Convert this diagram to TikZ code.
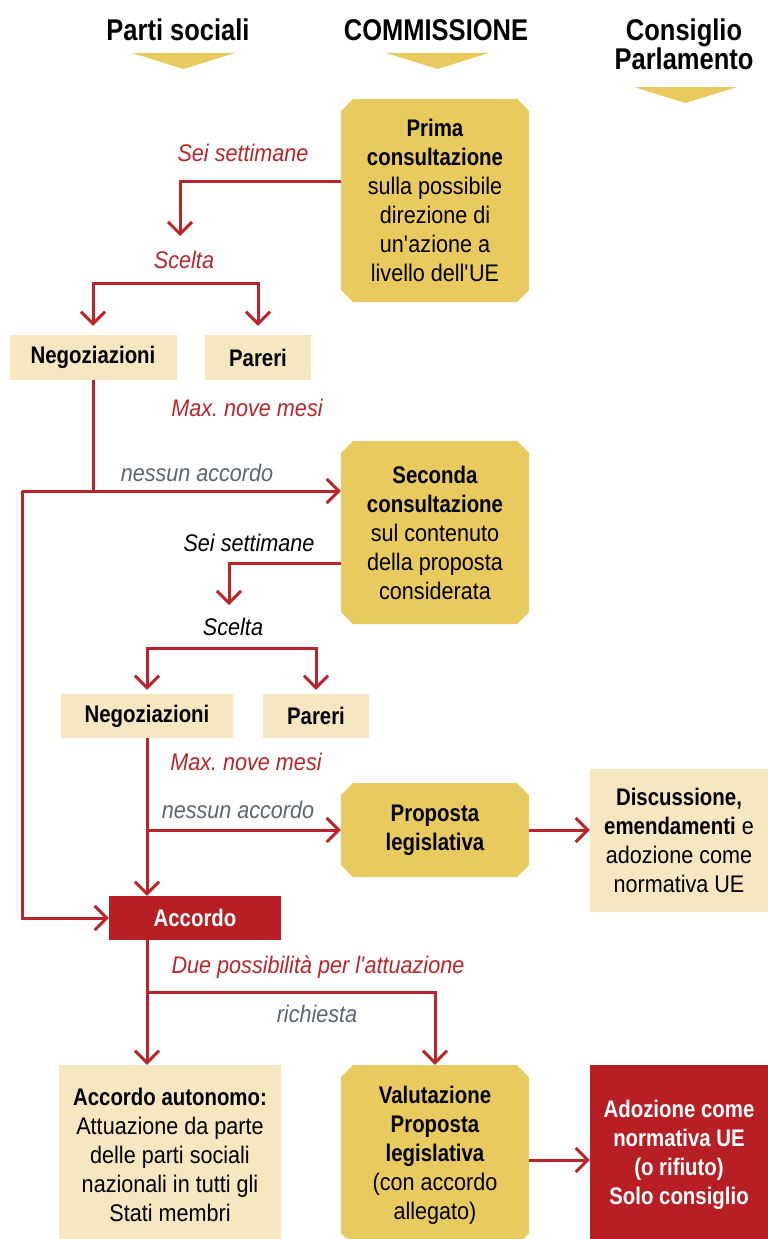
\documentclass[tikz,border=0pt]{standalone}
\usepackage{fontspec}
\setmainfont{Liberation Sans}[FakeStretch=0.9, BoldFeatures={FakeStretch=0.85}]
\usetikzlibrary{arrows.meta,shapes.misc}
\definecolor{gold}{HTML}{E9CA5E}
\definecolor{beige}{HTML}{F7E7C1}
\definecolor{dred}{HTML}{B71F25}
\definecolor{lred}{HTML}{B9252B}
\definecolor{gtext}{HTML}{5B6770}
\newcommand{\apo}{\textquotesingle}
\begin{document}
\begin{tikzpicture}[x=1pt,y=-1pt,
  body/.style={font=\fontsize{24}{29}\selectfont, align=center, inner sep=0pt},
  gbox/.style={body, chamfered rectangle, chamfered rectangle xsep=6pt, chamfered rectangle ysep=6pt, fill=gold},
  bbox/.style={body, rectangle, fill=beige},
  rbox/.style={body, rectangle, fill=dred, text=white},
  hdr/.style={font=\fontsize{30}{30}\selectfont\bfseries, align=center, inner sep=0pt},
  lab/.style={font=\fontsize{24}{24}\selectfont\itshape, inner sep=0pt},
  tri/.style={fill=gold},
  ln/.style={draw=lred, line width=3pt},
  arr/.style={ln, -{Straight Barb[length=12pt,width=24pt,line width=3pt]}}]
\useasboundingbox (0,0) rectangle (768,1239);
\clip (0,0) rectangle (768,1239);
% headers
\node[hdr] (hps) at (178,30) {Parti sociali};
\node[hdr] (hcom) at (436,30) {COMMISSIONE};
\node[hdr] (hcp) at (684,44) {Consiglio\\[-1pt]Parlamento};
\fill[tri] (132,53) -- (235,53) -- (183.5,69) -- cycle;
\fill[tri] (386,53) -- (489,53) -- (437.5,69) -- cycle;
\fill[tri] (634,87) -- (737,87) -- (685.5,103) -- cycle;
% boxes
\node[gbox, minimum width=188pt, minimum height=203pt] (prima) at (435,200.5)
  {\textbf{Prima}\\\textbf{consultazione}\\sulla possibile\\direzione di\\un\apo azione a\\livello dell\apo UE};
\node[bbox, minimum width=167pt, minimum height=45pt] (negA) at (93,357.5) {\textbf{Negoziazioni}};
\node[bbox, minimum width=106pt, minimum height=45pt] (parA) at (258,357.5) {\textbf{Pareri}};
\node[gbox, minimum width=188pt, minimum height=183pt] (seconda) at (435,532.5)
  {\textbf{Seconda}\\\textbf{consultazione}\\sul contenuto\\della proposta\\considerata};
\node[bbox, minimum width=172pt, minimum height=44pt] (negB) at (147,716) {\textbf{Negoziazioni}};
\node[bbox, minimum width=106pt, minimum height=44pt] (parB) at (316,716) {\textbf{Pareri}};
\node[gbox, minimum width=188pt, minimum height=94pt] (proposta) at (435,830)
  {\textbf{Proposta}\\\textbf{legislativa}};
\node[bbox, minimum width=178pt, minimum height=143pt] (disc) at (679,840.5)
  {\textbf{Discussione,}\\\textbf{emendamenti} e\\adozione come\\normativa UE};
\node[rbox, minimum width=172pt, minimum height=44pt] (accordo) at (195,918) {\textbf{Accordo}};
\node[bbox, minimum width=222pt, minimum height=180pt] (auton) at (170,1155)
  {\textbf{Accordo autonomo:}\\Attuazione da parte\\delle parti sociali\\nazionali in tutti gli\\Stati membri};
\node[gbox, minimum width=188pt, minimum height=180pt] (valut) at (435,1155)
  {\textbf{Valutazione}\\\textbf{Proposta}\\\textbf{legislativa}\\(con accordo\\allegato)};
\node[rbox, minimum width=178pt, minimum height=180pt] (adoz) at (679,1155)
  {\textbf{Adozione come}\\\textbf{normativa UE}\\\textbf{(o rifiuto)}\\\textbf{Solo consiglio}};
% labels
\node[lab, text=lred] (l1) at (243,153) {Sei settimane};
\node[lab, text=lred] (l2) at (184,260) {Scelta};
\node[lab, text=lred] (l3) at (247,408) {Max.\ nove mesi};
\node[lab, text=gtext] (l4) at (197,473) {nessun accordo};
\node[lab, text=black] (l5) at (249,543) {Sei settimane};
\node[lab, text=black] (l6) at (233,627) {Scelta};
\node[lab, text=lred] (l7) at (246,762) {Max.\ nove mesi};
\node[lab, text=gtext] (l8) at (238,810) {nessun accordo};
\node[lab, text=lred] (l9) at (318,967) {Due possibilità per l\apo attuazione};
\node[lab, text=gtext] (l10) at (317,1014) {richiesta};
% coordinates
\coordinate (e1) at (180,236);
\coordinate (sA) at (175,283);
\coordinate (J1) at (22,491);
\coordinate (e2) at (229,605);
\coordinate (sB) at (230,648);
% connectors
\draw[arr] ([yshift=19.5pt]prima.west) -| (e1);
\draw[arr, shorten >=9pt] (sA) -| (negA.north);
\draw[arr, shorten >=9pt] (sA) -| (parA.north);
\draw[ln] (negA.south) -- (negA.south |- J1);
\draw[arr] (J1) -- ([yshift=41.5pt]seconda.west);
\draw[arr] (J1) |- (accordo.west);
\draw[arr] ([yshift=-30.5pt]seconda.west) -| (e2);
\draw[arr, shorten >=4pt] (sB) -| (negB.north);
\draw[arr, shorten >=4pt] (sB) -| (parB.north);
\draw[arr] (negB.south) -- (negB.south |- accordo.north);
\draw[arr] (negB.south |- proposta.west) -- (proposta.west);
\draw[arr] (proposta.east) -- (proposta.east -| disc.west);
\draw[arr] (negB.south |- accordo.south) -- (negB.south |- auton.north);
\draw[arr] (negB.south |- 0,992) -| (valut.north);
\draw[arr] ([yshift=-5pt]valut.east) -- ([yshift=-5pt]valut.east -| adoz.west);
\end{tikzpicture}
\end{document}
